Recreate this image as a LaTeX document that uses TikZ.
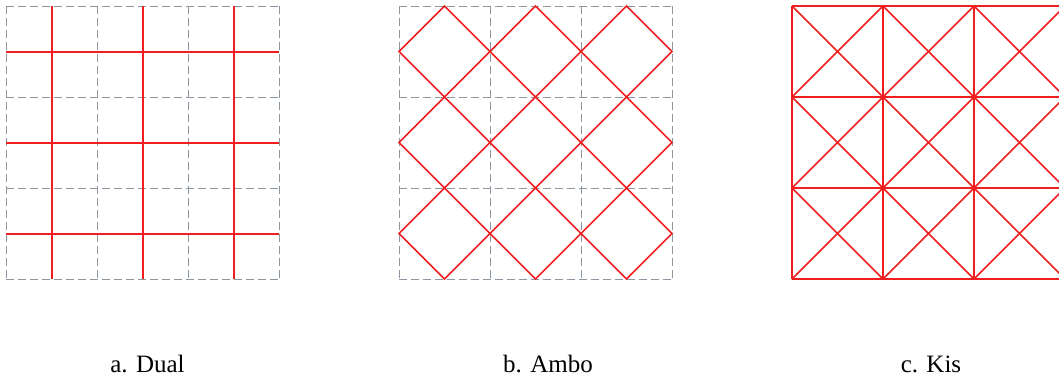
\documentclass[tikz,border=0pt]{standalone}
\usepackage{fontspec}
\setmainfont{Liberation Serif}
\definecolor{redline}{RGB}{240,30,30}
\definecolor{gridgray}{RGB}{140,150,160}
\tikzset{
  gridline/.style={draw=gridgray, line width=0.9pt, dash pattern=on 8pt off 4pt},
  redl/.style={draw=redline, line width=1.5pt},
  caption/.style={anchor=base, font=\fontsize{25}{30}\selectfont, inner sep=0pt}
}
\begin{document}
\begin{tikzpicture}[x=1pt,y=-1pt]
\useasboundingbox (0,0) rectangle (1059,377);
\clip (0,0) rectangle (1059,377);
% ---------- a. Dual ----------
\foreach \i in {0,...,3}{
  \draw[gridline] ({6+91*\i},6) -- ({6+91*\i},279);
  \draw[gridline] (6,{6+91*\i}) -- (279,{6+91*\i});
}
\draw[redl] (52,6) -- (52,279);
\draw[redl] (143,6) -- (143,279);
\draw[redl] (234,6) -- (234,279);
\draw[redl] (6,52) -- (279,52);
\draw[redl] (6,143) -- (279,143);
\draw[redl] (6,234) -- (279,234);
% ---------- b. Ambo ----------
\foreach \i in {0,...,3}{
  \draw[gridline] ({399+91*\i},6) -- ({399+91*\i},279);
  \draw[gridline] (399,{6+91*\i}) -- (672,{6+91*\i});
}
\foreach \i in {0,1,2}{
  \foreach \j in {0,1,2}{
    \draw[redl, line join=miter]
      ({399+91*\i+45.5},{6+91*\j}) -- ({399+91*\i+91},{6+91*\j+45.5})
      -- ({399+91*\i+45.5},{6+91*\j+91}) -- ({399+91*\i},{6+91*\j+45.5}) -- cycle;
  }
}
% ---------- c. Kis ----------
\foreach \i in {0,...,4}{
  \draw[redl] ({792+91*\i},6) -- ({792+91*\i},279);
}
\foreach \j in {0,...,3}{
  \draw[redl] (792,{6+91*\j}) -- (1156,{6+91*\j});
}
\foreach \i in {0,...,3}{
  \foreach \j in {0,1,2}{
    \draw[redl] ({792+91*\i},{6+91*\j}) -- ({792+91*\i+91},{6+91*\j+91});
    \draw[redl] ({792+91*\i+91},{6+91*\j}) -- ({792+91*\i},{6+91*\j+91});
  }
}
% ---------- captions ----------
\node[caption] (capa) at (147.5,372) {a. Dual};
\node[caption] (capb) at (548,372) {b. Ambo};
\node[caption] (capc) at (931,372) {c. Kis};
\end{tikzpicture}
\end{document}
